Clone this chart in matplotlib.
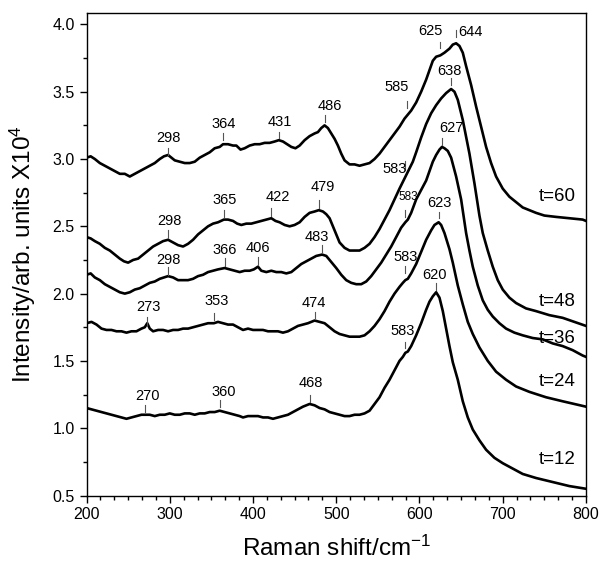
import matplotlib
matplotlib.use("Agg")
import matplotlib.pyplot as plt
from matplotlib.ticker import AutoMinorLocator, FormatStrFormatter

plt.rcParams["font.family"] = ["Liberation Sans", "DejaVu Sans"]
plt.rcParams["mathtext.fontset"] = "custom"
plt.rcParams["mathtext.rm"] = "Liberation Sans"
plt.rcParams["mathtext.default"] = "regular"

# spectra (Raman shift / cm-1, intensity x10^4)
x60 = [200, 205, 210, 216, 222, 228, 234, 240, 246, 252, 258, 264, 270, 276, 282, 288, 293, 298,
       302, 306, 312, 318, 324, 330, 336, 342, 348, 354, 360, 364, 370, 376, 380, 385, 390, 396,
       402, 408, 414, 420, 426, 431, 436, 441, 446, 451, 456, 462, 468, 474, 478, 482, 486, 490,
       494, 498, 502, 506, 510, 516, 522, 528, 534, 540, 546, 552, 558, 564, 570, 576, 582, 586,
       590, 596, 602, 608, 612, 616, 620, 625, 630, 636, 640, 644, 648, 652, 656, 662, 668, 674,
       680, 686, 692, 700, 708, 716, 724, 732, 740, 750, 764, 780, 796, 800]
y60 = [3.01, 3.02, 3.00, 2.97, 2.95, 2.93, 2.91, 2.89, 2.89, 2.87, 2.89, 2.91, 2.93, 2.95, 2.97,
       3.00, 3.02, 3.03, 3.01, 2.99, 2.98, 2.97, 2.97, 2.98, 3.01, 3.03, 3.05, 3.08, 3.09, 3.11,
       3.11, 3.10, 3.10, 3.07, 3.08, 3.10, 3.11, 3.11, 3.12, 3.12, 3.13, 3.14, 3.13, 3.11, 3.09,
       3.08, 3.10, 3.14, 3.17, 3.19, 3.20, 3.23, 3.25, 3.23, 3.19, 3.15, 3.10, 3.04, 2.99, 2.96,
       2.96, 2.95, 2.96, 2.97, 3.00, 3.04, 3.09, 3.14, 3.19, 3.24, 3.30, 3.33, 3.36, 3.42, 3.50,
       3.59, 3.66, 3.73, 3.76, 3.77, 3.79, 3.82, 3.85, 3.86, 3.84, 3.79, 3.69, 3.55, 3.39, 3.24,
       3.09, 2.97, 2.87, 2.78, 2.72, 2.68, 2.64, 2.62, 2.60, 2.58, 2.57, 2.56, 2.55, 2.54]

x48 = [200, 205, 210, 216, 222, 228, 234, 240, 245, 250, 256, 262, 268, 274, 280, 286, 292, 298,
       304, 310, 316, 322, 328, 334, 340, 346, 352, 358, 365, 370, 376, 381, 386, 392, 398, 404,
       410, 416, 422, 427, 432, 438, 444, 450, 456, 462, 468, 474, 479, 484, 488, 492, 496, 500,
       504, 510, 516, 522, 528, 534, 540, 546, 552, 558, 564, 570, 576, 580, 584, 588, 592, 596,
       602, 608, 614, 620, 626, 632, 638, 642, 646, 652, 660, 666, 672, 676, 682, 688, 694, 700,
       708, 716, 728, 740, 756, 772, 786, 800]
y48 = [2.42, 2.41, 2.39, 2.37, 2.34, 2.32, 2.29, 2.26, 2.24, 2.23, 2.25, 2.26, 2.29, 2.32, 2.35,
       2.37, 2.39, 2.40, 2.38, 2.36, 2.35, 2.37, 2.40, 2.44, 2.47, 2.50, 2.52, 2.53, 2.55, 2.55,
       2.54, 2.52, 2.51, 2.52, 2.52, 2.53, 2.54, 2.55, 2.56, 2.54, 2.53, 2.51, 2.50, 2.51, 2.53,
       2.57, 2.60, 2.61, 2.62, 2.61, 2.59, 2.56, 2.50, 2.44, 2.38, 2.34, 2.32, 2.32, 2.32, 2.34,
       2.37, 2.42, 2.48, 2.55, 2.62, 2.70, 2.78, 2.83, 2.88, 2.93, 2.98, 3.05, 3.16, 3.26, 3.34,
       3.40, 3.45, 3.49, 3.52, 3.50, 3.44, 3.29, 3.04, 2.82, 2.58, 2.45, 2.32, 2.20, 2.10, 2.03,
       1.97, 1.93, 1.89, 1.87, 1.84, 1.82, 1.79, 1.76]

x36 = [200, 205, 210, 216, 222, 228, 234, 240, 246, 252, 258, 264, 270, 276, 282, 288, 293, 298,
       304, 310, 316, 322, 328, 334, 340, 346, 352, 358, 366, 372, 378, 384, 390, 396, 401, 406,
       410, 416, 422, 428, 434, 440, 446, 452, 458, 464, 470, 476, 483, 488, 492, 496, 500, 506,
       512, 518, 524, 530, 536, 542, 548, 554, 560, 566, 572, 578, 583, 586, 590, 596, 602, 608,
       612, 616, 620, 624, 627, 630, 634, 638, 644, 650, 656, 660, 664, 670, 676, 682, 688, 696,
       704, 714, 724, 736, 748, 760, 772, 784, 796, 800]
y36 = [2.14, 2.15, 2.12, 2.10, 2.07, 2.05, 2.03, 2.01, 2.00, 2.01, 2.03, 2.04, 2.06, 2.08, 2.09,
       2.11, 2.12, 2.13, 2.12, 2.10, 2.10, 2.10, 2.11, 2.13, 2.14, 2.16, 2.17, 2.18, 2.19, 2.18,
       2.17, 2.16, 2.17, 2.17, 2.18, 2.20, 2.17, 2.16, 2.17, 2.16, 2.16, 2.15, 2.16, 2.19, 2.22,
       2.24, 2.26, 2.28, 2.29, 2.28, 2.25, 2.22, 2.19, 2.14, 2.10, 2.08, 2.07, 2.07, 2.09, 2.13,
       2.18, 2.23, 2.29, 2.35, 2.42, 2.49, 2.53, 2.55, 2.60, 2.70, 2.77, 2.84, 2.91, 2.98, 3.03,
       3.07, 3.09, 3.08, 3.06, 3.01, 2.87, 2.70, 2.45, 2.32, 2.20, 2.06, 1.95, 1.88, 1.83, 1.78,
       1.74, 1.71, 1.69, 1.67, 1.66, 1.63, 1.61, 1.58, 1.54, 1.53]

x24 = [200, 206, 212, 218, 224, 230, 236, 242, 248, 254, 260, 266, 270, 273, 276, 280, 286, 292,
       298, 304, 310, 316, 322, 328, 334, 340, 346, 353, 358, 364, 370, 376, 382, 388, 394, 400,
       406, 412, 418, 424, 430, 436, 442, 448, 454, 460, 466, 474, 480, 486, 492, 498, 504, 510,
       516, 522, 528, 534, 540, 546, 552, 558, 564, 570, 576, 580, 583, 586, 590, 596, 602, 608,
       614, 618, 623, 626, 630, 636, 640, 646, 652, 658, 664, 672, 682, 692, 704, 716, 732, 752,
       772, 786, 800]
y24 = [1.78, 1.79, 1.77, 1.74, 1.73, 1.73, 1.72, 1.72, 1.71, 1.72, 1.72, 1.74, 1.75, 1.78, 1.74,
       1.72, 1.73, 1.73, 1.72, 1.73, 1.73, 1.74, 1.74, 1.75, 1.76, 1.77, 1.78, 1.78, 1.79, 1.78,
       1.77, 1.77, 1.75, 1.73, 1.74, 1.73, 1.73, 1.73, 1.72, 1.72, 1.72, 1.71, 1.72, 1.74, 1.76,
       1.77, 1.78, 1.80, 1.79, 1.78, 1.75, 1.72, 1.70, 1.69, 1.68, 1.68, 1.68, 1.69, 1.72, 1.76,
       1.81, 1.87, 1.94, 2.00, 2.05, 2.08, 2.10, 2.11, 2.15, 2.22, 2.31, 2.40, 2.47, 2.51, 2.53,
       2.51, 2.45, 2.33, 2.23, 2.06, 1.92, 1.79, 1.70, 1.60, 1.50, 1.42, 1.36, 1.31, 1.27, 1.23,
       1.20, 1.18, 1.16]

x12 = [200, 206, 212, 218, 224, 230, 236, 242, 248, 254, 260, 266, 270, 276, 282, 288, 294, 300,
       306, 312, 318, 324, 330, 336, 342, 348, 354, 360, 366, 372, 378, 384, 388, 394, 400, 406,
       412, 418, 424, 430, 436, 442, 448, 454, 460, 464, 468, 474, 480, 486, 492, 498, 504, 510,
       516, 522, 528, 534, 540, 546, 552, 558, 564, 570, 576, 580, 583, 586, 590, 596, 602, 608,
       612, 616, 620, 624, 628, 632, 636, 640, 646, 652, 658, 664, 672, 680, 690, 700, 712, 724,
       740, 760, 780, 800]
y12 = [1.15, 1.14, 1.13, 1.12, 1.11, 1.10, 1.09, 1.08, 1.07, 1.08, 1.09, 1.10, 1.10, 1.10, 1.09,
       1.10, 1.10, 1.11, 1.10, 1.10, 1.11, 1.11, 1.10, 1.11, 1.11, 1.12, 1.12, 1.13, 1.12, 1.11,
       1.10, 1.09, 1.08, 1.09, 1.09, 1.09, 1.08, 1.08, 1.07, 1.08, 1.09, 1.10, 1.12, 1.14, 1.16,
       1.17, 1.18, 1.17, 1.15, 1.14, 1.12, 1.11, 1.10, 1.09, 1.09, 1.10, 1.10, 1.11, 1.13, 1.18,
       1.23, 1.30, 1.36, 1.43, 1.50, 1.53, 1.56, 1.57, 1.61, 1.69, 1.78, 1.88, 1.94, 1.98, 2.01,
       1.97, 1.87, 1.74, 1.61, 1.49, 1.36, 1.20, 1.08, 0.99, 0.91, 0.84, 0.78, 0.74, 0.70, 0.66,
       0.63, 0.60, 0.57, 0.55]

series = [("t=60", x60, y60), ("t=48", x48, y48), ("t=36", x36, y36),
          ("t=24", x24, y24), ("t=12", x12, y12)]

# peak labels: text, position of tick (x, y0, y1), text centre (x, y), size
peaks = [
    ("298", 298, 3.030, 3.082, 298, 3.154, 10.5),
    ("364", 364, 3.141, 3.193, 365, 3.260, 10.5),
    ("431", 431, 3.154, 3.203, 432, 3.277, 10.5),
    ("486", 486, 3.277, 3.327, 492, 3.394, 10.5),
    ("585", 585, 3.379, 3.431, 572, 3.537, 10.5),
    ("625", 625, 3.822, 3.871, 613, 3.953, 10.5),
    ("644", 644, 3.909, 3.958, 661, 3.946, 10.5),
    ("298", 298, 2.413, 2.473, 300, 2.542, 10.5),
    ("365", 365, 2.571, 2.621, 366, 2.695, 10.5),
    ("422", 422, 2.577, 2.636, 430, 2.715, 10.5),
    ("479", 479, 2.636, 2.695, 484, 2.790, 10.5),
    ("583", 583, 2.918, 2.985, 570, 2.926, 10.5),
    ("638", 638, 3.550, 3.602, 636, 3.654, 10.5),
    ("298", 298, 2.138, 2.198, 298, 2.250, 10.5),
    ("366", 366, 2.205, 2.264, 366, 2.324, 10.5),
    ("406", 406, 2.212, 2.272, 406, 2.337, 10.5),
    ("483", 483, 2.309, 2.361, 477, 2.423, 10.5),
    ("583", 583, 2.569, 2.621, 586, 2.715, 8.5),
    ("627", 627, 3.104, 3.156, 638, 3.228, 10.5),
    ("273", 273, 1.767, 1.826, 274, 1.898, 10.5),
    ("353", 353, 1.804, 1.856, 356, 1.947, 10.5),
    ("474", 474, 1.819, 1.863, 473, 1.932, 10.5),
    ("583", 583, 2.153, 2.205, 583, 2.274, 10.5),
    ("623", 623, 2.561, 2.606, 624, 2.671, 10.5),
    ("270", 270, 1.120, 1.172, 273, 1.239, 10.5),
    ("360", 360, 1.158, 1.210, 365, 1.267, 10.5),
    ("468", 468, 1.195, 1.247, 469, 1.334, 10.5),
    ("583", 583, 1.597, 1.641, 580, 1.724, 10.5),
    ("620", 620, 2.027, 2.079, 618, 2.138, 10.5),
]

# right-hand series labels (y of text centre)
label_y = [2.72, 1.94, 1.668, 1.345, 0.77]

fig = plt.figure(figsize=(6.02, 5.67), dpi=100)
ax = fig.add_axes([0.1437, 0.1261, 0.8297, 0.8510])

for (name, xs, ys), ly in zip(series, label_y):
    ax.plot(xs, ys, color="black", lw=1.9, solid_joinstyle="round")
    ax.text(788, ly, name, ha="right", va="center", fontsize=13.5)

for txt, px, y0, y1, tx, ty, fs in peaks:
    ax.plot([px, px], [y0, y1], color="#555555", lw=0.8)
    ax.text(tx, ty, txt, ha="center", va="center", fontsize=fs)

ax.set_xlim(200, 800)
ax.set_ylim(0.5, 4.085)
ax.set_xticks(range(200, 801, 100))
ax.set_yticks([0.5, 1.0, 1.5, 2.0, 2.5, 3.0, 3.5, 4.0])
ax.xaxis.set_minor_locator(AutoMinorLocator(6))
ax.yaxis.set_minor_locator(AutoMinorLocator(2))
ax.yaxis.set_major_formatter(FormatStrFormatter("%.1f"))
ax.tick_params(which="both", direction="out", top=False, right=False,
               width=1.0, labelsize=11.5)
ax.tick_params(which="major", length=5)
ax.tick_params(which="minor", length=3)
for s in ax.spines.values():
    s.set_linewidth(1.0)

ax.set_xlabel("Raman shift/cm$^{-1}$", fontsize=17.5, labelpad=10)
ax.set_ylabel("Intensity/arb. units X10$^{4}$", fontsize=17.5, labelpad=10)

fig.savefig("out.png", dpi=100)
